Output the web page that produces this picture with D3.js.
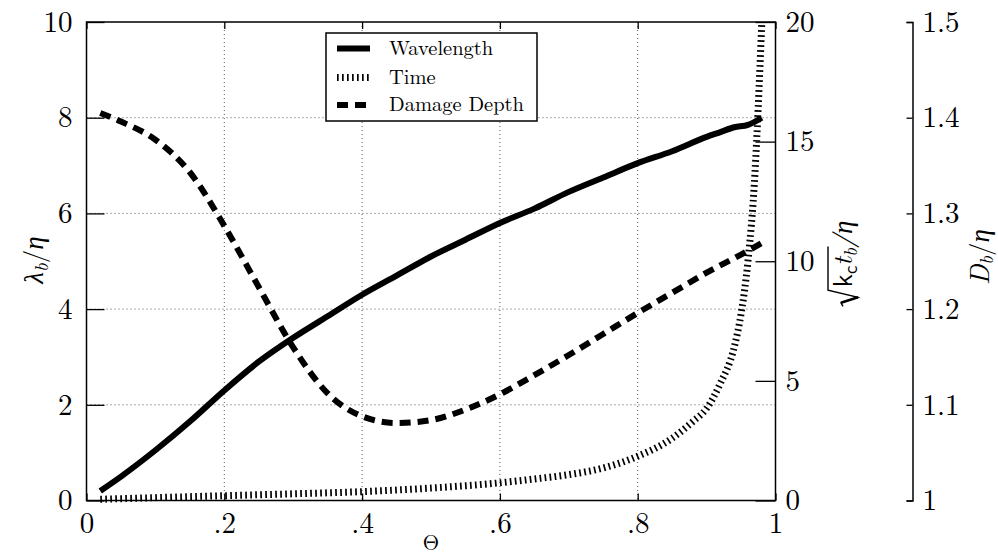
<!DOCTYPE html>
<html><head><meta charset="utf-8">
<script src="https://cdn.jsdelivr.net/npm/d3@7"></script>
<style>body{margin:0;background:#fff}svg{display:block}</style>
</head><body>
<svg id="c" width="998" height="556"></svg>
<script>
// ---- data ----
const thetaW = [0.02,0.05,0.1,0.15,0.2,0.25,0.3,0.35,0.4,0.45,0.5,0.55,0.6,0.65,0.7,0.75,0.8,0.85,0.9,0.92,0.94,0.96,0.98];
const wavelength = [0.2,0.5,1.05,1.65,2.3,2.9,3.4,3.85,4.3,4.7,5.1,5.45,5.8,6.1,6.45,6.75,7.05,7.3,7.6,7.7,7.8,7.85,8.0];
const thetaT = [0.02,0.1,0.2,0.3,0.4,0.5,0.6,0.65,0.7,0.75,0.8,0.85,0.88,0.9,0.92,0.94,0.95,0.96,0.97,0.975,0.98];
const timeVals = [0.05,0.12,0.2,0.28,0.37,0.52,0.74,0.9,1.08,1.36,1.85,2.6,3.3,3.85,4.9,6.4,7.8,10.0,13.6,16.5,19.9];
const thetaD = [0.02,0.05,0.1,0.15,0.2,0.25,0.3,0.35,0.4,0.45,0.5,0.55,0.6,0.65,0.7,0.75,0.8,0.85,0.9,0.95,0.98];
const damage = [1.405,1.396,1.377,1.343,1.287,1.223,1.160,1.112,1.088,1.081,1.084,1.095,1.111,1.131,1.152,1.174,1.196,1.217,1.238,1.257,1.269];
const xTicks = [0,0.2,0.4,0.6,0.8,1];
const yLTicks = [0,2,4,6,8,10];
const yRTicks = [0,5,10,15,20];
const yDTicks = [1,1.1,1.2,1.3,1.4,1.5];
const legendLabels = ["Wavelength","Time","Damage Depth"];

// ---- layout ----
const L=86.5, R=775.5, T=22, B=500.5, X3=912.5;
const FONT = "'Latin Modern Roman', 'Liberation Serif', serif";
const SANS = "'Latin Modern Sans', 'Liberation Sans', sans-serif";
const svg = d3.select('#c');
const x = d3.scaleLinear().domain([0,1]).range([L,R]);
const yL = d3.scaleLinear().domain([0,10]).range([B,T]);
const yR = d3.scaleLinear().domain([0,20]).range([B,T]);
const yD = d3.scaleLinear().domain([1,1.5]).range([B,T]);

// grid
const grid = svg.append('g').attr('stroke','#555').attr('stroke-width',1).attr('stroke-dasharray','1,3');
grid.selectAll('line.v').data(xTicks.slice(1,-1)).join('line')
  .attr('x1',d=>x(d)).attr('x2',d=>x(d)).attr('y1',T).attr('y2',B);
grid.selectAll('line.h').data(yLTicks.slice(1,-1)).join('line')
  .attr('x1',L).attr('x2',R).attr('y1',d=>yL(d)).attr('y2',d=>yL(d));

function styleAxis(g){
  g.selectAll('.tick line').attr('stroke','#000').attr('stroke-width',1.3);
  g.selectAll('.tick text').style('font-family',FONT).style('font-size','29px').attr('fill','#000');
  g.select('.domain').attr('stroke','#000').attr('stroke-width',1.5);
}
const xfmt = d => d===0?'0':d===1?'1':d3.format('.1f')(d).replace(/^0/,'');

svg.append('g').attr('transform',`translate(0,${B})`)
  .call(d3.axisBottom(x).tickValues(xTicks).tickFormat(xfmt).tickSizeInner(-7).tickSizeOuter(0).tickPadding(12))
  .call(styleAxis).call(g=>g.select('.domain').remove());
svg.append('g').attr('transform',`translate(0,${T})`)
  .call(d3.axisTop(x).tickValues(xTicks).tickFormat('').tickSizeInner(-7).tickSizeOuter(0))
  .call(styleAxis).call(g=>g.select('.domain').remove());
svg.append('g').attr('transform',`translate(${L},0)`)
  .call(d3.axisLeft(yL).tickValues(yLTicks).tickSizeInner(-18).tickSizeOuter(0).tickPadding(14))
  .call(styleAxis).call(g=>g.select('.domain').remove());
svg.append('g').attr('transform',`translate(${R},0)`)
  .call(d3.axisRight(yR).tickValues(yRTicks).tickSizeInner(-20).tickSizeOuter(0).tickPadding(10))
  .call(styleAxis).call(g=>g.select('.domain').remove());
svg.append('g').attr('transform',`translate(${X3},0)`)
  .call(d3.axisRight(yD).tickValues(yDTicks).tickFormat(d=>d===1?'1':d3.format('.1f')(d)).tickSizeInner(-6).tickSizeOuter(-6).tickPadding(10))
  .call(styleAxis);

// box
svg.append('rect').attr('x',L).attr('y',T).attr('width',R-L).attr('height',B-T)
  .attr('fill','none').attr('stroke','#000').attr('stroke-width',1.5);

// lines
const lw = d3.line().x((d,i)=>x(thetaW[i])).y(d=>yL(d)).curve(d3.curveMonotoneX);
const lt = d3.line().x((d,i)=>x(thetaT[i])).y(d=>yR(d)).curve(d3.curveMonotoneX);
const ld = d3.line().x((d,i)=>x(thetaD[i])).y(d=>yD(d)).curve(d3.curveMonotoneX);
const styles = [
  {w:6, dash:null},
  {w:7, dash:'1.7,3.3'},
  {w:6, dash:'11,7'}
];
svg.append('path').attr('d',lt(timeVals)).attr('fill','none').attr('stroke','#000')
  .attr('stroke-width',styles[1].w).attr('stroke-dasharray',styles[1].dash);
svg.append('path').attr('d',ld(damage)).attr('fill','none').attr('stroke','#000')
  .attr('stroke-width',styles[2].w).attr('stroke-dasharray',styles[2].dash);
svg.append('path').attr('d',lw(wavelength)).attr('fill','none').attr('stroke','#000')
  .attr('stroke-width',styles[0].w);

// legend
const lg = svg.append('g');
lg.append('rect').attr('x',326).attr('y',33).attr('width',211).attr('height',88)
  .attr('fill','#fff').attr('stroke','#000').attr('stroke-width',1.5);
const ly = [48.5,77.5,105];
legendLabels.forEach((t,i)=>{
  lg.append('line').attr('x1',337).attr('x2',370).attr('y1',ly[i]).attr('y2',ly[i])
    .attr('stroke','#000').attr('stroke-width',styles[i].w).attr('stroke-dasharray',styles[i].dash);
  lg.append('text').attr('x',389).attr('y',ly[i]+6).style('font-family',FONT).style('font-size','20.5px').text(t);
});

// axis labels
function rotLabel(cx, cy){
  return svg.append('g').attr('transform',`translate(${cx},${cy}) rotate(-90)`)
    .append('text').attr('text-anchor','middle').style('font-family',FONT).style('font-size','27px').attr('fill','#000');
}
// lambda_b / eta
{
  const t = rotLabel(43, 260);
  t.append('tspan').style('font-style','italic').text('λ');
  t.append('tspan').style('font-style','italic').style('font-size','19px').attr('dy',5).text('b');
  t.append('tspan').attr('dy',-5).text('/');
  t.append('tspan').style('font-style','italic').text('η');
}
// sqrt(k_c t_b)/eta
{
  const t = rotLabel(852, 254);
  t.append('tspan').style('font-family',SANS).text('k');
  t.append('tspan').style('font-family',SANS).style('font-size','19px').attr('dy',5).text('c');
  t.append('tspan').style('font-style','italic').attr('dy',-5).text('t');
  t.append('tspan').style('font-style','italic').style('font-size','19px').attr('dy',5).text('b');
  t.append('tspan').style('font-style','italic').attr('dy',-5).text('/η');
  const node = t.node();
  const k = node.getExtentOfChar(0);
  const b = node.getExtentOfChar(3);
  const x0 = k.x - 2, xe = b.x + b.width + 1.5, top = -24;
  const g = d3.select(node.parentNode);
  g.append('path')
    .attr('d',`M${x0-17},-9 L${x0-13.5},-11 L${x0-8},6 L${x0-1},${top} L${xe},${top}`)
    .attr('fill','none').attr('stroke','#000').attr('stroke-width',1.4).attr('stroke-linejoin','miter');
  g.append('path')
    .attr('d',`M${x0-13.5},-11 L${x0-8},6`)
    .attr('fill','none').attr('stroke','#000').attr('stroke-width',2.6);
}
// D_b / eta
{
  const t = rotLabel(989, 257);
  t.append('tspan').style('font-style','italic').text('D');
  t.append('tspan').style('font-style','italic').style('font-size','19px').attr('dy',4).text('b');
  t.append('tspan').attr('dy',-4).text('/');
  t.append('tspan').style('font-style','italic').text('η');
}
svg.append('text').attr('x',431).attr('y',550).attr('text-anchor','middle')
  .style('font-family',FONT).style('font-size','21px').text('Θ');
</script>
</body></html>
